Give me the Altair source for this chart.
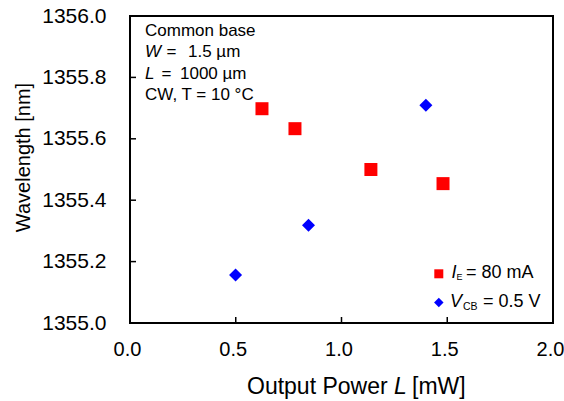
import altair as alt
import pandas as pd

# ---- data ----
ie_power = [0.624, 0.780, 1.139, 1.480]
ie_wavelength = [1355.698, 1355.633, 1355.500, 1355.454]
vcb_power = [0.499, 0.844, 1.399]
vcb_wavelength = [1355.156, 1355.318, 1355.709]
series_names = ["IE", "VCB"]
series_colors = ["#ff0000", "#0000ff"]
series_shapes = ["square", "diamond"]
x_ticks = [0.0, 0.5, 1.0, 1.5, 2.0]
y_ticks = [1355.0, 1355.2, 1355.4, 1355.6, 1355.8, 1356.0]
x_inner_ticks = [0.5, 1.0, 1.5]
y_inner_ticks = [1355.2, 1355.4, 1355.6, 1355.8]

FONT = "Liberation Sans"
W, H = 423, 307

df = pd.DataFrame({
    "power": ie_power + vcb_power,
    "wl": ie_wavelength + vcb_wavelength,
    "series": [series_names[0]] * len(ie_power) + [series_names[1]] * len(vcb_power),
})

xs = alt.Scale(domain=[0, 2], nice=False, zero=False)
ys = alt.Scale(domain=[1355, 1356], nice=False, zero=False)

xaxis = alt.Axis(values=x_ticks, format=".1f", ticks=False, tickSize=0, domain=False,
                 grid=False, labelFont=FONT, labelFontSize=20, labelPadding=16,
                 labelOffset=-3, labelColor="black", title=None, labelFlush=False)
yaxis = alt.Axis(values=y_ticks, format=".1f", ticks=False, tickSize=0, domain=False,
                 grid=False, labelFont=FONT, labelFontSize=21, labelPadding=24,
                 labelColor="black", title=None, labelFlush=False)

points = alt.Chart(df).mark_point(filled=True, opacity=1, strokeWidth=0).encode(
    x=alt.X("power:Q", scale=xs, axis=xaxis),
    y=alt.Y("wl:Q", scale=ys, axis=yaxis),
    color=alt.Color("series:N", scale=alt.Scale(domain=series_names, range=series_colors), legend=None),
    shape=alt.Shape("series:N", scale=alt.Scale(domain=series_names, range=series_shapes), legend=None),
    size=alt.value(169),
)

xt = alt.Chart(pd.DataFrame({"t": x_inner_ticks})).mark_rule(color="black", strokeWidth=1.5).encode(
    x=alt.X("t:Q", scale=xs, axis=xaxis), y=alt.value(H), y2=alt.value(H - 6))
yt = alt.Chart(pd.DataFrame({"t": y_inner_ticks})).mark_rule(color="black", strokeWidth=1.5).encode(
    y=alt.Y("t:Q", scale=ys, axis=yaxis), x=alt.value(0), x2=alt.value(6))

one = pd.DataFrame({"a": [0]})


def txt(s, x, y, size=17, style="normal", align="left", baseline="alphabetic", angle=0):
    kw = dict(text=s, font=FONT, fontSize=size, fontStyle=style, align=align,
              baseline=baseline, color="black")
    if angle:
        kw["angle"] = angle
    return alt.Chart(one).mark_text(**kw).encode(x=alt.value(x), y=alt.value(y))


texts = [
    # annotation block
    txt("Common base", 15, 20),
    txt("W", 15, 41, style="italic"),
    txt("=", 36.5, 41),
    txt("1.5 µm", 58, 41),
    txt("L", 15, 62.5, style="italic"),
    txt("=", 31.5, 62.5),
    txt("1000 µm", 50, 62.5),
    txt("CW, T = 10 °C", 15, 84),
    # legend texts
    txt("I", 321.5, 262.3, size=18, style="italic"),
    txt("E", 326.5, 264, size=9),
    txt("= 80 mA", 336, 262.3, size=18),
    txt("V", 320, 290.7, size=18, style="italic"),
    txt("CB", 333, 293.5, size=10.5),
    txt("= 0.5 V", 353, 290.7, size=18),
    # x title
    txt("Output Power", 117, 378, size=23),
    txt("L", 264, 378, size=23, style="italic"),
    txt("[mW]", 282, 378, size=23),
    # y title
    txt("Wavelength [nm]", -100, 141.5, size=20, align="center", angle=270),
]

leg_sq = alt.Chart(one).mark_point(shape="square", filled=True, opacity=1, strokeWidth=0,
                                   color=series_colors[0]).encode(
    x=alt.value(308.8), y=alt.value(257.8), size=alt.value(81))
leg_di = alt.Chart(one).mark_point(shape="diamond", filled=True, opacity=1, strokeWidth=0,
                                   color=series_colors[1]).encode(
    x=alt.value(308.8), y=alt.value(286.5), size=alt.value(90))

chart = alt.layer(points, xt, yt, leg_sq, leg_di, *texts).properties(
    width=W, height=H,
    autosize=alt.AutoSizeParams(type="none"),
    padding={"left": 130, "top": 16, "right": 11, "bottom": 78},
    background="white",
).configure_view(stroke="black", strokeWidth=2)

chart.save("out.html", embed_options={"renderer": "svg", "actions": False})
